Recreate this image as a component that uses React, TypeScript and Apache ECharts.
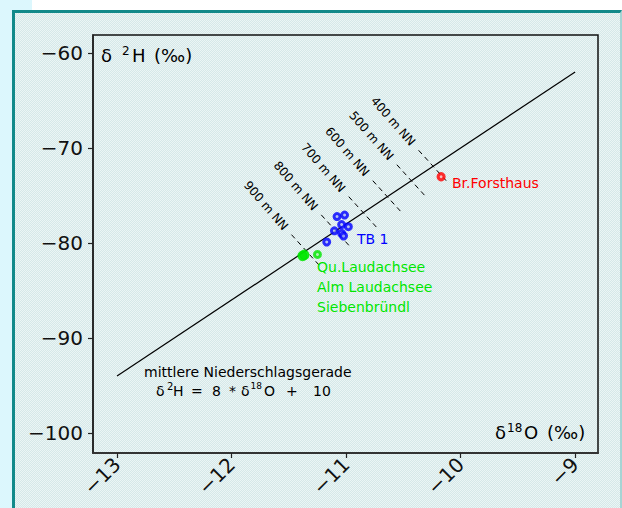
import React, { useEffect, useRef } from "react";
import * as echarts from "echarts";

// ---- data ----
const xTicks = [-13, -12, -11, -10, -9];
const yTicks = [-100, -90, -80, -70, -60];
const mwlLine = [
  [-13, -94],
  [-9, -62],
];
const altitudeLabels = ["400 m NN", "500 m NN", "600 m NN", "700 m NN", "800 m NN", "900 m NN"];
const altitudeX = [-10.24, -10.43, -10.64, -10.85, -11.09, -11.35];
const altitudeY = [-71.92, -73.44, -75.12, -76.8, -78.72, -80.8];
const tb1X = [-11.079, -11.013, -11.039, -10.98, -11.102, -11.039, -11.022, -11.169];
const tb1Y = [-77.21, -77.05, -78.05, -78.28, -78.71, -78.98, -79.26, -79.89];
const greenNames = ["Qu.Laudachsee", "Alm Laudachsee", "Siebenbründl"];
const greenX = [-11.38, -11.365, -11.25];
const greenY = [-81.35, -81.25, -81.2];
const redName = "Br.Forsthaus";
const redX = [-10.17];
const redY = [-73.02];
const tb1Name = "TB 1";

const FONT = '"DejaVu Sans", "Noto Sans", sans-serif';
const BLUE = "#0000ff";
const GREEN = "#00e600";
const RED = "#ff0000";

const fmt = (v: number) => (v < 0 ? "\u2212" + Math.abs(v) : String(v));

function txt(text: string, x: number, y: number, size: number, color = "#000") {
  return {
    type: "text",
    x,
    y,
    silent: true,
    z: 10,
    style: {
      text,
      fill: color,
      font: `${size}px ${FONT}`,
      align: "left",
      verticalAlign: "middle",
    },
  };
}

export default function App() {
  const ref = useRef<HTMLDivElement>(null);

  useEffect(() => {
    if (!ref.current) return;
    const chart = echarts.init(ref.current, undefined, { renderer: "svg" });

    const option: any = {
      animation: false,
      backgroundColor: "transparent",
      grid: {
        left: 93,
        top: 35,
        width: 505,
        height: 418,
        show: true,
        borderColor: "#111",
        borderWidth: 1.5,
        backgroundColor: "transparent",
      },
      xAxis: {
        type: "value",
        min: -13.21,
        max: -8.8,
        axisLine: { show: true, onZero: false, lineStyle: { color: "#333", width: 2 } },
        axisTick: { show: true, length: 5, customValues: xTicks, lineStyle: { color: "#222", width: 1.2 } },
        axisLabel: {
          customValues: xTicks,
          rotate: 45,
          margin: 8,
          fontSize: 20,
          fontFamily: FONT,
          color: "#111",
          formatter: fmt,
        },
        splitLine: { show: false },
      },
      yAxis: {
        type: "value",
        min: -102.1,
        max: -58.1,
        axisLine: { show: true, onZero: false, lineStyle: { color: "#222", width: 1.5 } },
        axisTick: { show: true, length: 5, customValues: yTicks, lineStyle: { color: "#222", width: 1.2 } },
        axisLabel: {
          customValues: yTicks,
          margin: 10,
          fontSize: 20,
          fontFamily: FONT,
          color: "#111",
          formatter: fmt,
        },
        splitLine: { show: false },
      },
      series: [
        {
          type: "line",
          data: mwlLine,
          symbol: "none",
          silent: true,
          lineStyle: { color: "#000", width: 1.2 },
          z: 2,
        },
        {
          type: "custom",
          coordinateSystem: "cartesian2d",
          silent: true,
          z: 3,
          encode: { x: 0, y: 1 },
          data: altitudeX.map((x, i) => [x, altitudeY[i], i]),
          renderItem: (params: any, api: any) => {
            const p = api.coord([api.value(0), api.value(1)]);
            const i = api.value(2);
            return {
              type: "group",
              children: [
                {
                  type: "line",
                  shape: { x1: p[0] - 14.5, y1: p[1] - 16, x2: p[0] + 14.5, y2: p[1] + 16 },
                  style: { stroke: "#000", lineWidth: 1, lineDash: [5, 4] },
                },
                {
                  type: "text",
                  x: p[0] - 40,
                  y: p[1] - 45,
                  rotation: (-49 * Math.PI) / 180,
                  style: {
                    text: altitudeLabels[i],
                    fill: "#000",
                    font: `12px ${FONT}`,
                    align: "center",
                    verticalAlign: "middle",
                  },
                },
              ],
            };
          },
        },
        {
          type: "scatter",
          name: tb1Name,
          data: tb1X.map((x, i) => [x, tb1Y[i]]),
          symbol: "circle",
          symbolSize: 6,
          itemStyle: { color: "#aab8f0", borderColor: BLUE, borderWidth: 3 },
          z: 5,
        },
        {
          type: "scatter",
          name: "green",
          data: greenX.map((x, i) => ({
            value: [x, greenY[i]],
            symbolSize: i < 2 ? 9 : 6,
            itemStyle:
              i < 2
                ? { color: GREEN, borderColor: GREEN, borderWidth: 1.5 }
                : { color: "#a8f0a8", borderColor: GREEN, borderWidth: 3 },
          })),
          symbol: "circle",
          z: 5,
        },
        {
          type: "scatter",
          name: redName,
          data: redX.map((x, i) => [x, redY[i]]),
          symbol: "circle",
          symbolSize: 6,
          itemStyle: { color: "#ffb0b0", borderColor: RED, borderWidth: 3.2 },
          z: 5,
        },
      ],
      graphic: [
        // y-axis title: δ ²H (‰)
        txt("δ", 101, 55, 18),
        txt("2", 122, 51, 12),
        txt("H", 132, 55, 18),
        txt("(‰)", 154, 55, 18),
        // x-axis title: δ¹⁸O (‰)
        txt("δ", 495, 432.5, 18),
        txt("18", 507, 428, 12),
        txt("O", 524, 432.5, 18),
        txt("(‰)", 547, 432.5, 18),
        // meteoric water line caption
        txt("mittlere Niederschlagsgerade", 144, 372, 14),
        txt("δ", 156, 391, 14),
        txt("2", 167, 386, 10),
        txt("H", 173, 391, 14),
        txt("=", 191, 391, 14),
        txt("8", 212, 391, 14),
        txt("*", 229, 391, 14),
        txt("δ", 241, 391, 14),
        txt("18", 250.5, 386, 9),
        txt("O", 264, 391, 14),
        txt("+", 286, 391, 14),
        txt("10", 313, 391, 14),
        // point labels
        txt(tb1Name, 357, 239, 14, BLUE),
        txt(redName, 452, 183, 14, RED),
        txt(greenNames[0], 317, 267, 14, GREEN),
        txt(greenNames[1], 317, 287, 14, GREEN),
        txt(greenNames[2], 317, 307, 14, GREEN),
      ],
    };

    chart.setOption(option);
    return () => chart.dispose();
  }, []);

  return (
    <div
      style={{
        position: "fixed",
        left: 0,
        top: 0,
        width: 622,
        height: 508,
        background: "#ffffff",
        overflow: "hidden",
      }}
    >
      <div style={{ position: "absolute", left: 0, top: 0, width: 12, height: 508, background: "#dcf7fd" }} />
      <div style={{ position: "absolute", left: 0, top: 0, width: 32, height: 11, background: "#dcf7fd" }} />
      <div
        style={{
          position: "absolute",
          left: 12,
          top: 10,
          right: 0,
          bottom: 0,
          borderLeft: "3px solid #128a8a",
          borderTop: "3px solid #128a8a",
          borderRight: "2px solid #a6d4d4",
          backgroundColor: "#e0eeee",
          backgroundImage: "repeating-conic-gradient(#d5e8e8 0 25%, #ebf5f5 0 50%)",
          backgroundSize: "2px 2px",
        }}
      />
      <div ref={ref} style={{ position: "absolute", left: 0, top: 0, width: 622, height: 508 }} />
    </div>
  );
}
